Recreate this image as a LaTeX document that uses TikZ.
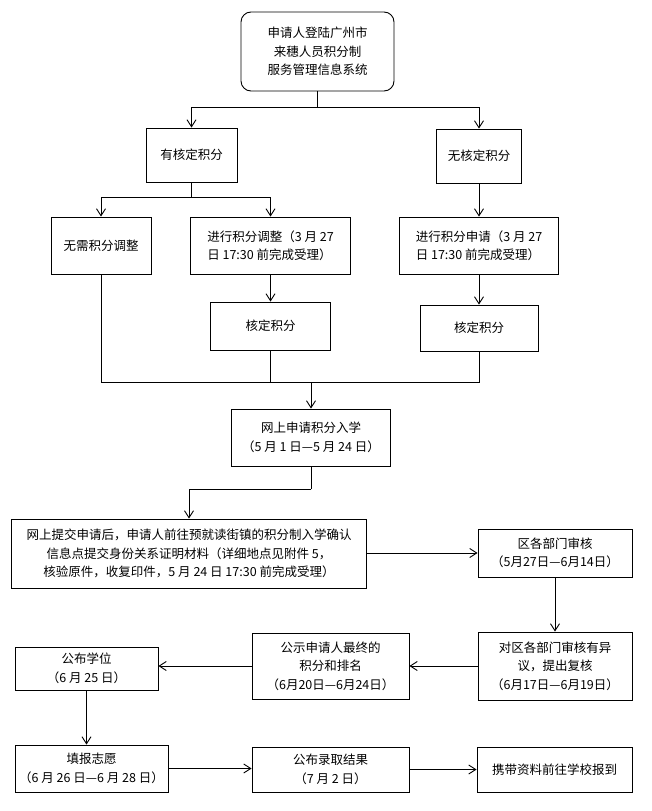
\documentclass[tikz,border=0pt]{standalone}
\usepackage{fontspec}
\setmainfont{Noto Sans CJK SC}
\usetikzlibrary{arrows.meta,positioning}
\tikzset{
  box/.style={draw,line width=0.9pt,align=center,inner sep=2pt,font=\fontsize{12.5}{18.5}\selectfont},
  arr/.style={-{Straight Barb[length=7pt,width=9pt]},line width=0.9pt},
  ln/.style={line width=0.9pt}
}

\begin{document}
\begin{tikzpicture}[x=1pt,y=-1pt]
	\useasboundingbox (0,0) rectangle (652,811);
	
	\node[box,rounded corners=10pt,minimum width=153pt,minimum height=79pt] (login) at (317.5,51.5) {申请人登陆广州市\\来穗人员积分制\\服务管理信息系统};
	\node[box,minimum width=91pt,minimum height=54pt] (you) at (191.5,155) {有核定积分};
	\node[box,minimum width=85pt,minimum height=54pt] (wu) at (479,156) {无核定积分};
	
	\node[box,minimum width=100pt,minimum height=57pt] (noadj) at (101,245.5) {无需积分调整};
	\node[box,align=left,minimum width=160pt,minimum height=57pt] (adj) at (270.5,245.5) {进行积分调整（3 月 27\\日 17:30 前完成受理）};
	\node[box,align=left,minimum width=159pt,minimum height=57pt] (apply) at (479,245.5) {进行积分申请（3 月 27\\日 17:30 前完成受理）};
	\node[box,minimum width=120pt,minimum height=48pt] (hdL) at (270.5,326) {核定积分};
	\node[box,minimum width=118pt,minimum height=46pt] (hdR) at (479,328) {核定积分};
	
	\node[box,minimum width=159pt,minimum height=57pt] (online) at (311,437.5) {网上申请积分入学\\（5 月 1 日—5 月 24 日）};
	\node[box,minimum width=355pt,minimum height=69pt] (submit) at (189,553.5) {网上提交申请后，申请人前往预就读街镇的积分制入学确认\\信息点提交身份关系证明材料（详细地点见附件 5，\\核验原件，收复印件，5 月 24 日 17:30 前完成受理）};
	\node[box,minimum width=154pt,minimum height=48pt] (review) at (555,553) {区各部门审核\\（5月27日—6月14日）};
	\node[box,minimum width=154pt,minimum height=68pt] (recheck) at (555,666) {对区各部门审核有异\\议，提出复核\\（6月17日—6月19日）};
	\node[box,minimum width=157pt,minimum height=66pt] (publicity) at (330.5,666) {公示申请人最终的\\积分和排名\\（6月20日—6月24日）};
	\node[box,minimum width=143pt,minimum height=43pt] (seat) at (86.5,668.5) {公布学位\\（6 月 25 日）};
	\node[box,minimum width=153pt,minimum height=47pt] (fill) at (91.5,768.5) {填报志愿\\（6 月 26 日—6 月 28 日）};
	\node[box,minimum width=157pt,minimum height=45pt] (result) at (330.5,769.5) {公布录取结果\\（7 月 2 日）};
	\node[box,minimum width=155pt,minimum height=45pt] (report) at (554.5,769.5) {携带资料前往学校报到};
	
	\coordinate (s1) at (317.5,107);
	\coordinate (s2) at (191.5,197);
	\coordinate (j) at (311,382);
	\coordinate (s3) at (311,489);
	
	\draw[ln] (login) -- (s1);
	\draw[arr] (s1) -| (you);
	\draw[arr] (s1) -| (wu);
	\draw[ln] (you) -- (s2);
	\draw[arr] (s2) -| (noadj);
	\draw[arr] (s2) -| (adj);
	\draw[arr] (wu) -- (apply);
	\draw[arr] (adj) -- (hdL);
	\draw[arr] (apply) -- (hdR);
	
	\draw[ln] (noadj) |- (j);
	\draw[ln] (hdR) |- (j);
	\draw[ln] (hdL) -- (hdL |- j);
	\draw[arr] (j) -- (online);
	\draw[ln] (online) -- (s3);
	\draw[arr] (s3) -| (submit);
	
	\draw[arr] (submit.east |- review.west) -- (review.west);
	\draw[arr] (review) -- (recheck);
	\draw[arr] (recheck) -- (publicity);
	\draw[arr] (publicity.west) -- (seat.east |- publicity.west);
	\draw[arr] (seat.south) -- (seat.south |- fill.north);
	\draw[arr] (fill.east) -- (result.west |- fill.east);
	\draw[arr] (result) -- (report);
\end{tikzpicture}
\end{document}
